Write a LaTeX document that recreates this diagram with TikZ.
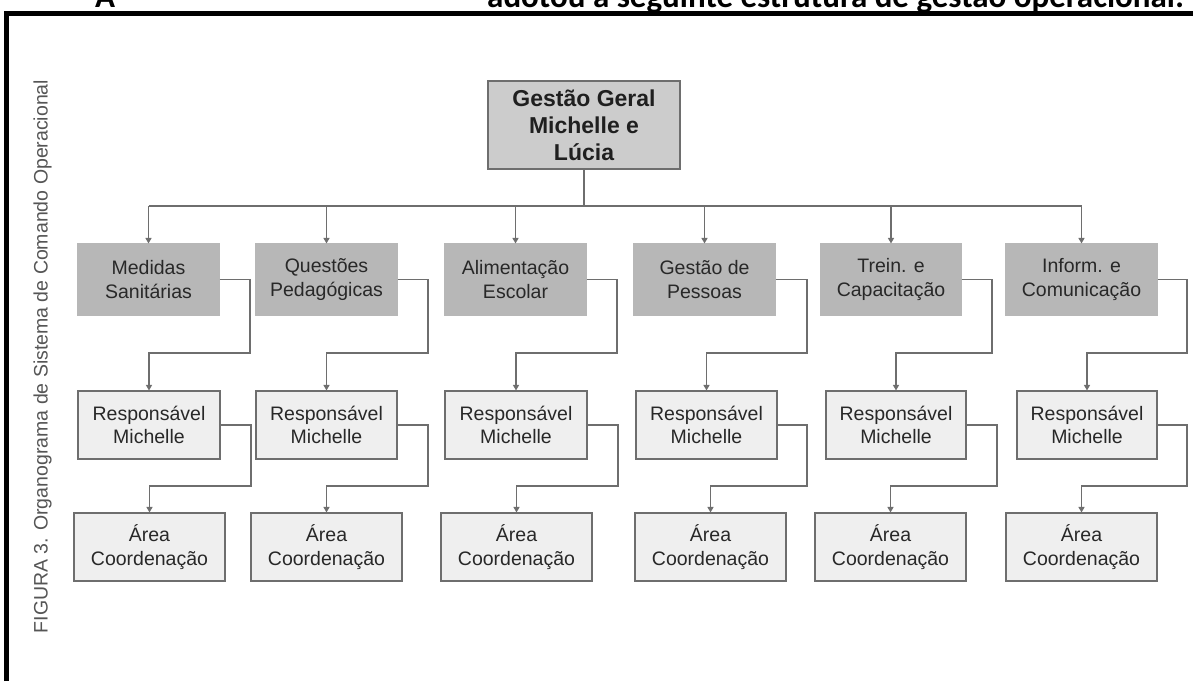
\documentclass[tikz,border=0pt]{standalone}
\usepackage{fontspec}
\setmainfont{Liberation Sans}
\newfontfamily\calib{Carlito}
\usetikzlibrary{arrows.meta}
\definecolor{lnc}{HTML}{6E6E6E}
\definecolor{txt}{HTML}{282828}
\definecolor{fillA}{HTML}{B7B7B7}
\definecolor{fillB}{HTML}{EFEFEF}
\definecolor{fillT}{HTML}{CCCCCC}
\definecolor{capc}{HTML}{555555}
\begin{document}
\begin{tikzpicture}[x=1pt,y=-1pt,
  box/.style={draw=lnc, line width=1.1pt, inner sep=0pt, align=center, text=txt,
    font=\fontsize{19.5}{23.5}\selectfont},
  lvlone/.style={box, fill=fillA, draw=fillA, minimum height=71pt},
  lvltwo/.style={box, fill=fillB, minimum height=68pt},
  line/.style={draw=lnc, line width=1.3pt},
  conn/.style={line, -{Triangle[width=6pt,length=5.5pt]}},
  headtext/.style={anchor=base west, inner sep=0pt, font=\calib\bfseries\fontsize{33}{36}\selectfont},
]
\useasboundingbox (0,0) rectangle (1193,681);

% clipped heading line of the page
\begin{scope}
  \clip (0,0) rectangle (1193,10);
  \node[headtext] (headA) at (95,7) {A};
  \node[headtext] (headB) at (487,7) {adotou a seguinte estrutura de gestão operacional:};
\end{scope}

% frame
\draw[line width=5.5pt] (6.5,681) -- (6.5,13.5) -- (1193,13.5);

% vertical caption
\node[rotate=90, inner sep=0pt, text=capc, font=\fontsize{19.5}{23.5}\selectfont] (cap) at (42.5,356.5)
  {FIGURA 3. Organograma de Sistema de Comando Operacional};

% top box
\node[box, fill=fillT, minimum width=192pt, minimum height=88pt,
  font=\bfseries\fontsize{23}{27}\selectfont, text=black!88] (top) at (584,125)
  {Gestão Geral\\Michelle e\\Lúcia};

% level 1
\node[lvlone, minimum width=141pt] (l1a) at (148.5,279.5) {Medidas\\Sanitárias};
\node[lvlone, minimum width=141pt] (l1b) at (326.5,279.5) {Questões\\Pedagógicas};
\node[lvlone, minimum width=141pt] (l1c) at (515.5,279.5) {Alimentação\\Escolar};
\node[lvlone, minimum width=141pt] (l1d) at (704.5,279.5) {Gestão de\\Pessoas};
\node[lvlone, minimum width=140pt] (l1e) at (891,279.5) {Trein. e\\Capacitação};
\node[lvlone, minimum width=151pt] (l1f) at (1081.5,279.5) {Inform. e\\Comunicação};

% level 2
\node[lvltwo, minimum width=142pt] (l2a) at (149,425) {Responsável\\Michelle};
\node[lvltwo, minimum width=141pt] (l2b) at (326.5,425) {Responsável\\Michelle};
\node[lvltwo, minimum width=142pt] (l2c) at (516,425) {Responsável\\Michelle};
\node[lvltwo, minimum width=141pt] (l2d) at (706.5,425) {Responsável\\Michelle};
\node[lvltwo, minimum width=140pt] (l2e) at (896,425) {Responsável\\Michelle};
\node[lvltwo, minimum width=140pt] (l2f) at (1087,425) {Responsável\\Michelle};

% level 3
\node[lvltwo, minimum width=151pt] (l3a) at (149.5,547) {Área\\Coordenação};
\node[lvltwo, minimum width=151pt] (l3b) at (326.5,547) {Área\\Coordenação};
\node[lvltwo, minimum width=151pt] (l3c) at (516.5,547) {Área\\Coordenação};
\node[lvltwo, minimum width=151pt] (l3d) at (710.5,547) {Área\\Coordenação};
\node[lvltwo, minimum width=151pt] (l3e) at (890.5,547) {Área\\Coordenação};
\node[lvltwo, minimum width=151pt] (l3f) at (1081.5,547) {Área\\Coordenação};

% bus from top box
\coordinate (bus) at (584,206);
\draw[line] (top.south) -- (bus);
\draw[line] (bus -| l1a.north) -- (bus -| l1f.north);
\foreach \n in {l1a,l1b,l1c,l1d,l1e,l1f}
  \draw[conn] (bus -| \n.north) -- (\n.north);

% level 1 -> level 2
\draw[conn] (l1a.east) -| (250,353) -| (l2a.north);
\draw[conn] (l1b.east) -| (428,353) -| (l2b.north);
\draw[conn] (l1c.east) -| (617,353) -| (l2c.north);
\draw[conn] (l1d.east) -| (807,353) -| (l2d.north);
\draw[conn] (l1e.east) -| (992,353) -| (l2e.north);
\draw[conn] (l1f.east) -| (1187,353) -| (l2f.north);

% level 2 -> level 3
\draw[conn] (l2a.east) -| (251,486) -| (l3a.north);
\draw[conn] (l2b.east) -| (428,486) -| (l3b.north);
\draw[conn] (l2c.east) -| (618,486) -| (l3c.north);
\draw[conn] (l2d.east) -| (807,486) -| (l3d.north);
\draw[conn] (l2e.east) -| (997,486) -| (l3e.north);
\draw[conn] (l2f.east) -| (1187,486) -| (l3f.north);
\end{tikzpicture}
\end{document}
